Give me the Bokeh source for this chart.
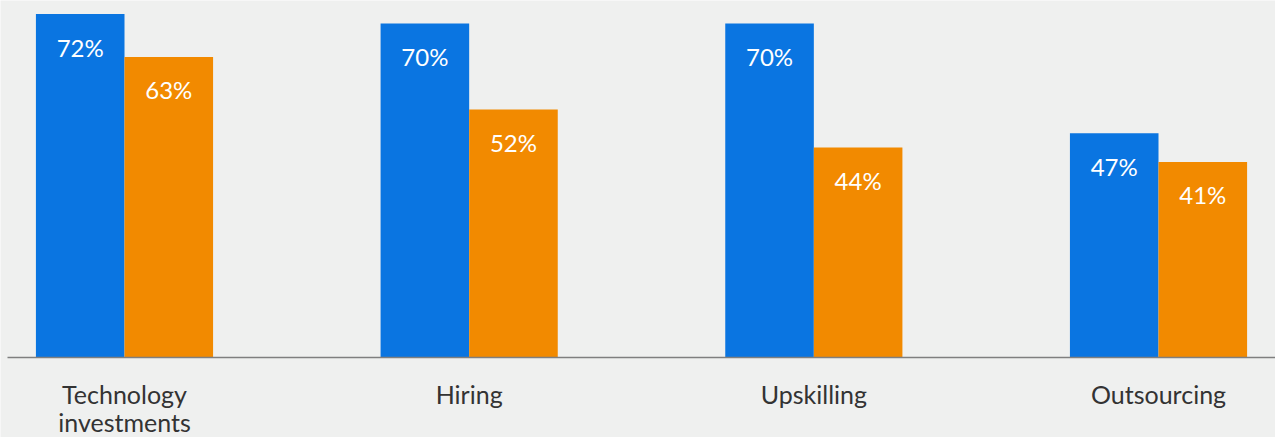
from bokeh.plotting import figure
from bokeh.models import ColumnDataSource, Range1d
from bokeh.core.properties import value
from bokeh.embed import file_html
from bokeh.resources import INLINE

categories = ["Technology\ninvestments", "Hiring", "Upskilling", "Outsourcing"]
series_a = [72, 70, 70, 47]
series_b = [63, 52, 44, 41]

BG = "#eff0ef"
BLUE = "#0a75e1"
ORANGE = "#f28a00"

W, H = 1275, 437
idx = list(range(len(categories)))
bw = 0.257

# layout geometry (pixels)
group_px = 344.67          # distance between group centres
first_px = 124.0           # centre of first group
px_per_pct = 4.77
base_px = 357.0            # baseline position from top

x0 = -first_px / group_px
x1 = (W - first_px) / group_px
y1 = base_px / px_per_pct
y0 = -(H - base_px) / px_per_pct

src_a = ColumnDataSource(dict(x=[i - bw / 2 for i in idx], top=series_a,
                              lab=[f"{v}%" for v in series_a]))
src_b = ColumnDataSource(dict(x=[i + bw / 2 for i in idx], top=series_b,
                              lab=[f"{v}%" for v in series_b]))
src_c = ColumnDataSource(dict(x=idx, y=[0] * len(idx), lab=categories))

p = figure(width=W, height=H, output_backend="svg", toolbar_location=None,
           x_range=Range1d(x0, x1), y_range=Range1d(y0, y1),
           min_border=0)
p.background_fill_color = BG
p.border_fill_color = BG
p.outline_line_color = None
p.grid.visible = False
p.axis.visible = False

p.vbar(x="x", top="top", width=bw, bottom=0, source=src_a, color=BLUE, line_color=None)
p.vbar(x="x", top="top", width=bw, bottom=0, source=src_b, color=ORANGE, line_color=None)

# baseline
p.segment(x0=[x0 + 7 / group_px], y0=[0], x1=[x1 + 1], y1=[0],
          line_color="#7f7f7f", line_width=1.5)

for s in (src_a, src_b):
    p.text(x="x", y="top", text="lab", source=s, text_color="white",
           text_font=value("Lato"), text_font_size="24px",
           text_align="center", text_baseline="middle", y_offset=33)

p.text(x="x", y="y", text="lab", source=src_c, text_color="#333333",
       text_font=value("Lato"), text_font_size="25px",
       text_align="center", text_baseline="top", y_offset=21,
       text_line_height=0.95)

html = file_html(p, INLINE)
html = html.replace("<body>", f'<body style="background:{BG}">', 1)
open("out.html", "w").write(html)
